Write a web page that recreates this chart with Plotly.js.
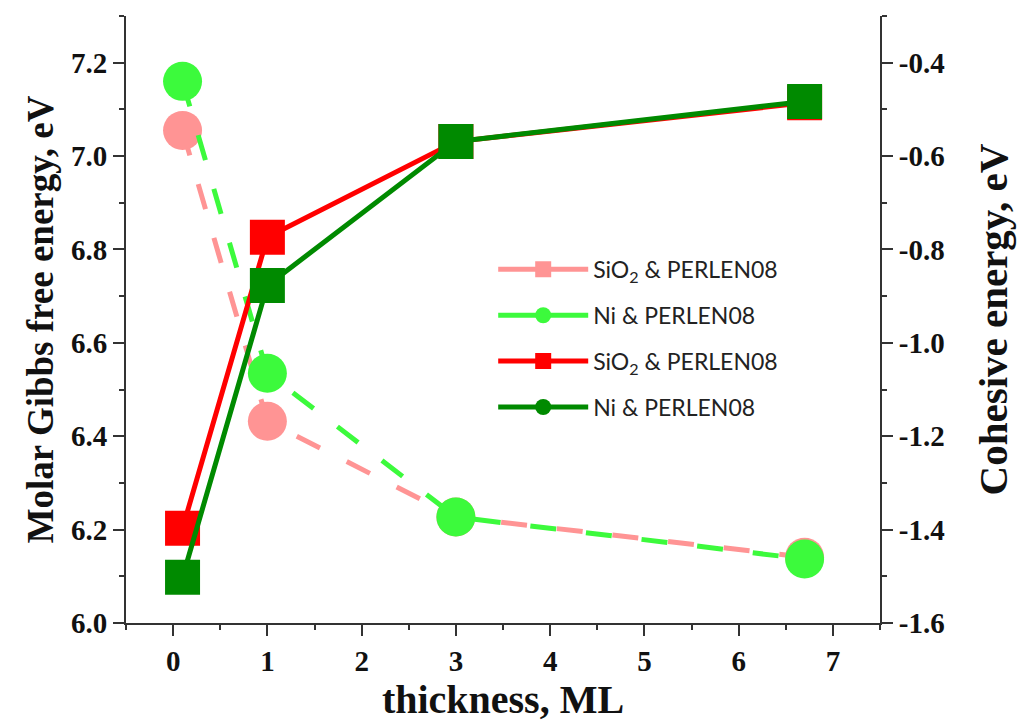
<!DOCTYPE html>
<html>
<head>
<meta charset="utf-8">
<script src="https://cdn.plot.ly/plotly-3.0.1.min.js"></script>
<style>html,body{margin:0;padding:0;background:#fff;}#chart{width:1019px;height:724px;}</style>
</head>
<body>
<div id="chart"></div>
<script>
// ---- data ----
const thickness = [0.1, 1, 3, 6.7];
const gibbsSiO2 = [7.055, 6.432, 6.227, 6.141];
const gibbsNi = [7.160, 6.535, 6.227, 6.137];
const cohesiveSiO2 = [-1.397, -0.774, -0.569, -0.486];
const cohesiveNi = [-1.502, -0.877, -0.569, -0.483];
const seriesNames = ['SiO<sub>2</sub> & PERLEN08', 'Ni & PERLEN08', 'SiO<sub>2</sub> & PERLEN08', 'Ni & PERLEN08'];
const legendSymbols = ['square', 'circle', 'square', 'circle'];
const xTickVals = [0, 1, 2, 3, 4, 5, 6, 7];
const leftTickVals = [6.0, 6.2, 6.4, 6.6, 6.8, 7.0, 7.2];
const leftTickText = ['6.0', '6.2', '6.4', '6.6', '6.8', '7.0', '7.2'];
const rightTickVals = [-1.6, -1.4, -1.2, -1.0, -0.8, -0.6, -0.4];
const rightTickText = ['-1.6', '-1.4', '-1.2', '-1.0', '-0.8', '-0.6', '-0.4'];

const colors = ['#ff9494', '#3cfa3c', '#ff0000', '#008a00'];
const serif = '"Liberation Serif", "Times New Roman", serif';

const dataTraces = [
  {x: thickness, y: gibbsSiO2, yaxis: 'y', mode: 'lines+markers', showlegend: false,
   line: {color: colors[0], width: 5, dash: '26px,30px'}, marker: {symbol: 'circle', size: 39, color: colors[0]}},
  {x: thickness, y: gibbsNi, yaxis: 'y', mode: 'lines+markers', showlegend: false,
   line: {color: colors[1], width: 5, dash: '26px,30px'}, marker: {symbol: 'circle', size: 39, color: colors[1]}},
  {x: thickness, y: cohesiveSiO2, yaxis: 'y2', mode: 'lines+markers', showlegend: false,
   line: {color: colors[2], width: 5}, marker: {symbol: 'square', size: 35, color: colors[2]}},
  {x: thickness, y: cohesiveNi, yaxis: 'y2', mode: 'lines+markers', showlegend: false,
   line: {color: colors[3], width: 5}, marker: {symbol: 'square', size: 35, color: colors[3]}}
];

const legendTraces = seriesNames.map((n, i) => ({
  x: [null], y: [null], name: n, mode: 'lines+markers', legendgroup: 'g' + i,
  line: {color: colors[i], width: 5}, marker: {symbol: legendSymbols[i], size: 16, color: colors[i]}
}));

const axisCommon = {
  showline: true, linecolor: '#333', linewidth: 2, ticks: 'outside', ticklen: 11, tickwidth: 2,
  tickcolor: '#333', showgrid: false, zeroline: false,
  tickfont: {family: serif, size: 29, color: '#111', weight: 'bold'}
};

const layout = {
  width: 1019, height: 724,
  margin: {l: 126, r: 139, t: 16, b: 101},
  paper_bgcolor: '#fff', plot_bgcolor: '#fff',
  xaxis: Object.assign({}, axisCommon, {
    range: [-0.5, 7.5], tickmode: 'array', tickvals: xTickVals,
    minor: {tickmode: 'linear', tick0: 0, dtick: 0.5, ticks: 'outside', ticklen: 5, tickwidth: 2, tickcolor: '#333'},
    title: {text: 'thickness, ML', font: {family: serif, size: 40, color: '#111', weight: 'bold'}, standoff: 7}
  }),
  yaxis: Object.assign({}, axisCommon, {
    range: [6.0, 7.3], tickmode: 'array', tickvals: leftTickVals, ticktext: leftTickText,
    minor: {tickmode: 'linear', tick0: 0, dtick: 0.1, ticks: 'outside', ticklen: 5, tickwidth: 2, tickcolor: '#333'},
    title: {text: 'Molar Gibbs free energy, eV', font: {family: serif, size: 37, color: '#111', weight: 'bold'}, standoff: 6}
  }),
  yaxis2: Object.assign({}, axisCommon, {
    overlaying: 'y', side: 'right',
    range: [-1.6, -0.3], tickmode: 'array', tickvals: rightTickVals, ticktext: rightTickText,
    minor: {tickmode: 'linear', tick0: 0, dtick: 0.1, ticks: 'outside', ticklen: 5, tickwidth: 2, tickcolor: '#333'},
    title: {text: 'Cohesive energy, eV', font: {family: serif, size: 41, color: '#111', weight: 'bold'}, standoff: 35}
  }),
  legend: {
    x: 0.487, y: 0.618, xanchor: 'left', yanchor: 'top', itemwidth: 90,
    bgcolor: 'rgba(0,0,0,0)', traceorder: 'grouped', tracegroupgap: 13,
    font: {family: 'Lato, "Open Sans", sans-serif', size: 23, color: '#222'}
  },
  showlegend: true
};

Plotly.newPlot('chart', dataTraces.concat(legendTraces), layout, {displayModeBar: false, staticPlot: true});
</script>
</body>
</html>
